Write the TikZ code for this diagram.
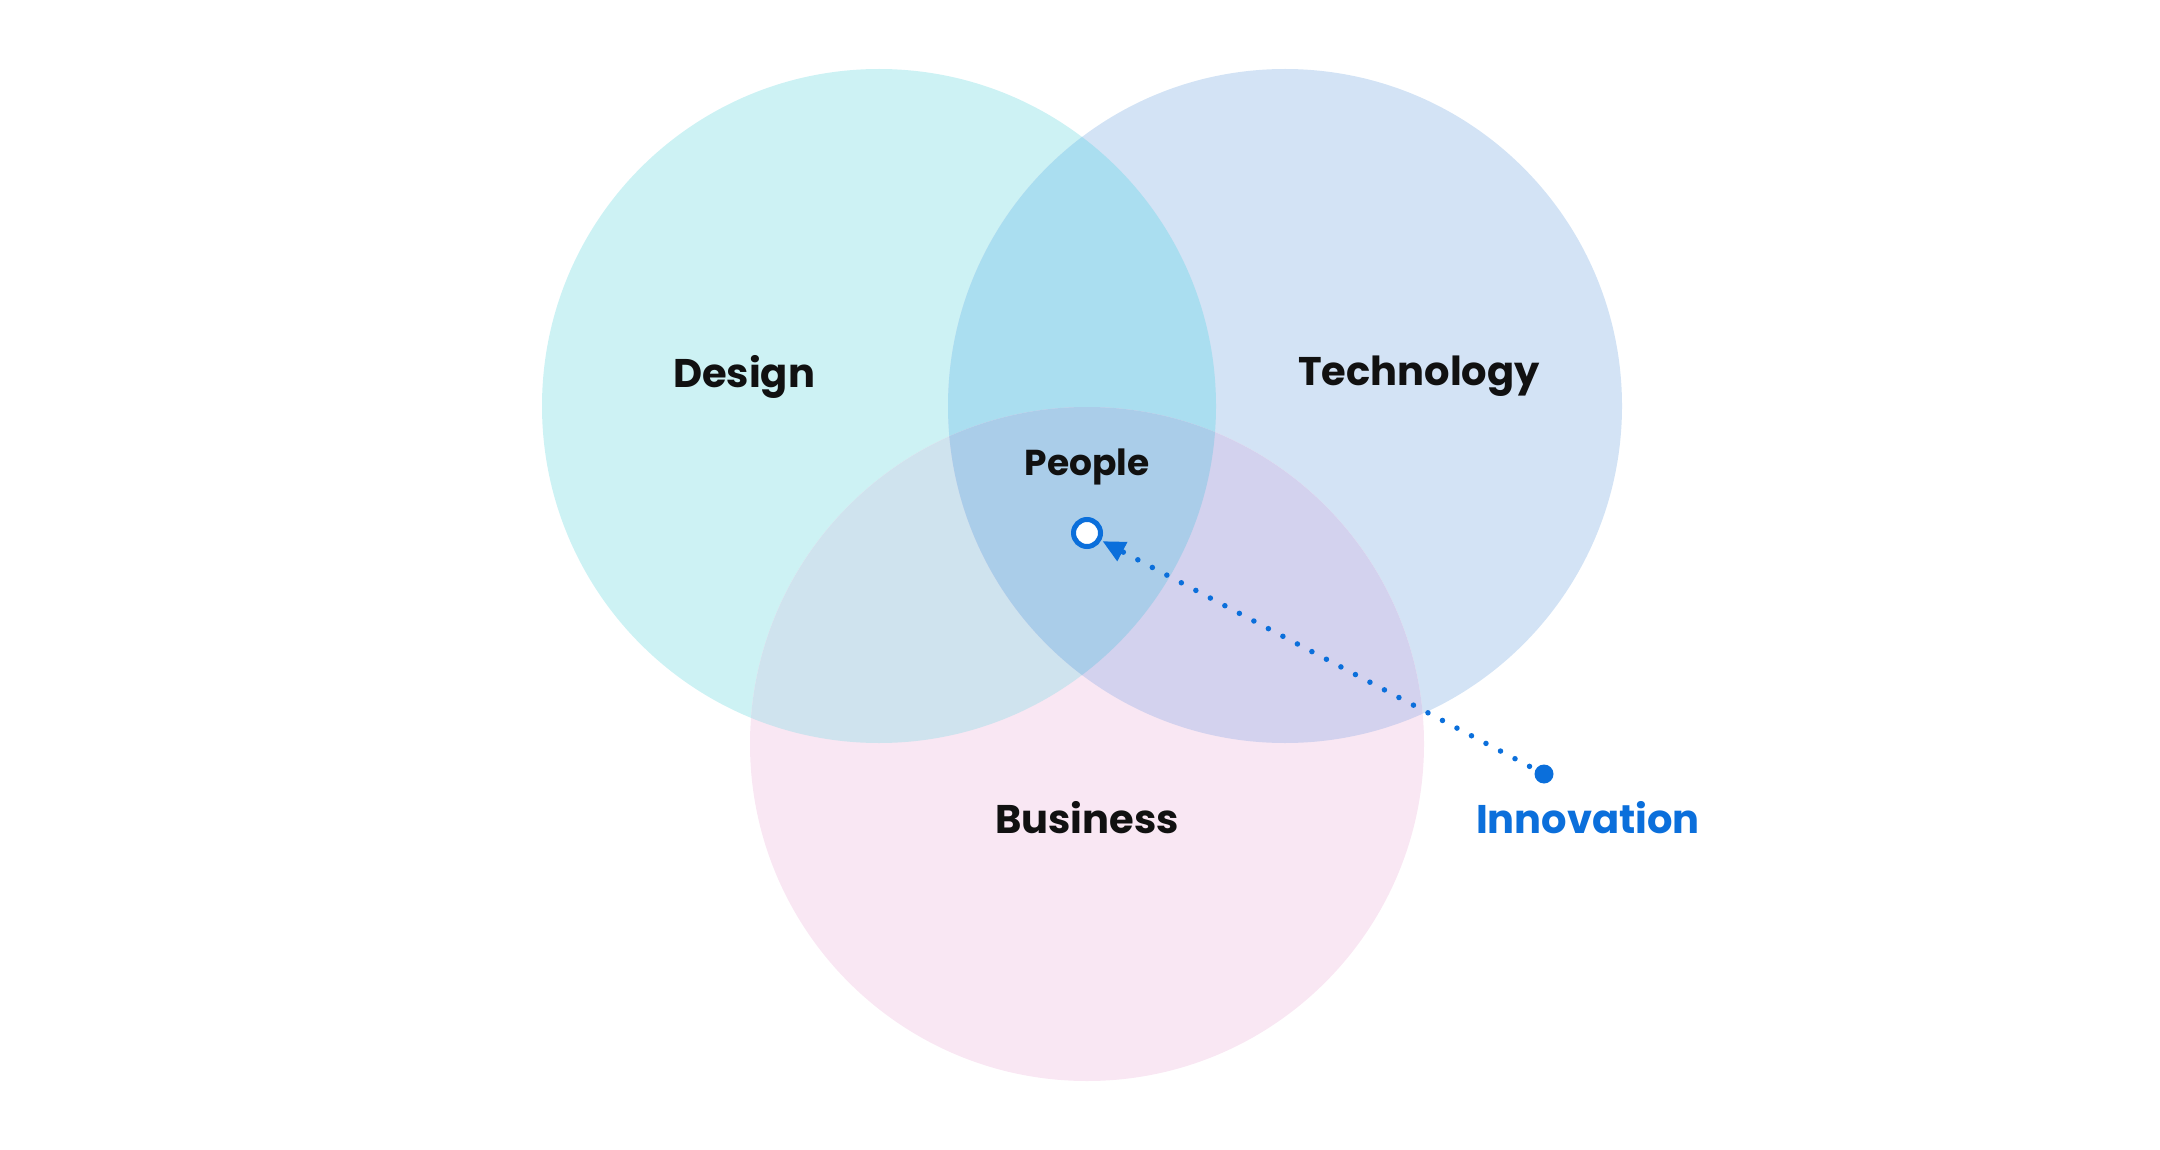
\documentclass[tikz,border=0pt]{standalone}
\usepackage{fontspec}
\setmainfont{Poppins}
\usetikzlibrary{arrows.meta,calc}
\definecolor{cD}{HTML}{CDF2F4}
\definecolor{cT}{HTML}{D3E3F5}
\definecolor{cB}{HTML}{F9E7F3}
\definecolor{cDT}{HTML}{AADEF0}
\definecolor{cDB}{HTML}{CFE3EE}
\definecolor{cTB}{HTML}{D3D2EE}
\definecolor{cDTB}{HTML}{AACDE9}
\definecolor{inkblue}{HTML}{0B6FDB}
\definecolor{ink}{HTML}{111111}
\tikzset{
  lbl/.style={anchor=base, inner sep=0pt, text=ink, font=\fontsize{40}{40}\selectfont\bfseries},
  smalllbl/.style={lbl, font=\fontsize{36}{36}\selectfont\bfseries},
  bluelbl/.style={lbl, text=inkblue},
  ring/.style={circle, draw=inkblue, fill=white, line width=5pt, minimum size=27pt, inner sep=0pt},
  blob/.style={circle, fill=inkblue, minimum size=19pt, inner sep=0pt},
  dotline/.style={inkblue, line width=5.5pt, line cap=round, dash pattern=on 0pt off 16.4pt}
}
\begin{document}
\begin{tikzpicture}[x=1pt,y=-1pt]
\useasboundingbox (0,0) rectangle (2160,1150);
\def\R{337}
\coordinate (cd) at (879,406);
\coordinate (ct) at (1285,406);
\coordinate (cb) at (1087,744);
% base circles
\fill[cD] (cd) circle (\R);
\fill[cT] (ct) circle (\R);
\fill[cB] (cb) circle (\R);
% pairwise overlaps
\begin{scope}\clip (cd) circle (\R); \fill[cDT] (ct) circle (\R); \end{scope}
\begin{scope}\clip (cd) circle (\R); \fill[cDB] (cb) circle (\R); \end{scope}
\begin{scope}\clip (ct) circle (\R); \fill[cTB] (cb) circle (\R); \end{scope}
% triple overlap
\begin{scope}\clip (cd) circle (\R); \clip (ct) circle (\R); \fill[cDTB] (cb) circle (\R); \end{scope}
% labels
\node[lbl] (design) at (744,387) {Design};
\node[lbl] (tech) at (1419,385) {Technology};
\node[smalllbl] (people) at (1087,475) {People};
\node[lbl] (business) at (1087,833) {Business};
\node[bluelbl] (innov) at (1588,833) {Innovation};
% innovation pointer
\node[ring] (target) at (1087,533) {};
\node[blob] (src) at (1544,774) {};
\draw[dotline] (src.center) -- ($(target)!22pt!(src)$);
\draw[inkblue, line width=0pt, -{Triangle[length=22pt,width=22pt]}, shorten >=2pt] ($(target)!25pt!(src)$) -- (target);
\end{tikzpicture}
\end{document}
